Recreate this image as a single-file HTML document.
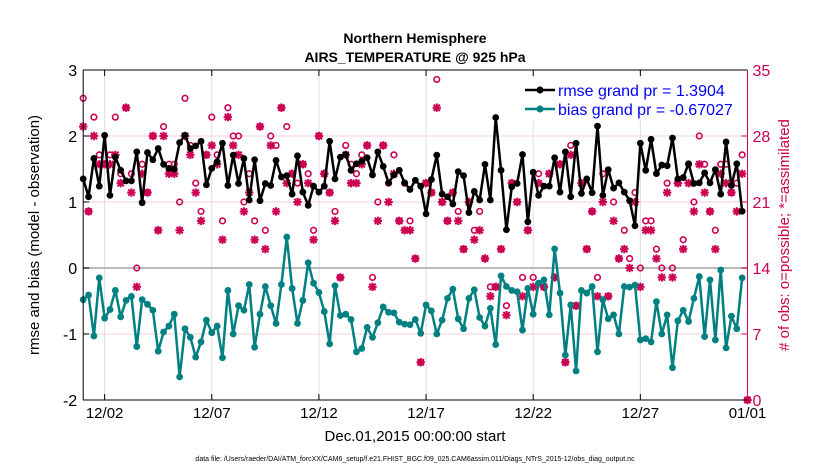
<!DOCTYPE html>
<html><head><meta charset="utf-8">
<style>
html,body{margin:0;padding:0;background:#fff;}
svg{display:block;font-family:"Liberation Sans",Arial,sans-serif;}
</style></head>
<body>
<svg id="chart" width="830" height="470" viewBox="0 0 830 470" xmlns="http://www.w3.org/2000/svg">
<rect x="0" y="0" width="830" height="470" fill="#fff"/>
<text x="415" y="43" text-anchor="middle" font-size="14" font-weight="bold">Northern Hemisphere</text>
<text x="415" y="62" text-anchor="middle" font-size="14" font-weight="bold">AIRS_TEMPERATURE @ 925 hPa</text>
<g id="grid"></g>
<g id="marks"></g>
<g id="axes"></g>
<text transform="translate(39,235) rotate(-90)" text-anchor="middle" font-size="15">rmse and bias (model - observation)</text>
<text transform="translate(789,235) rotate(-90)" text-anchor="middle" font-size="15" fill="#cc0052"># of obs: o=possible; *=assimilated</text>
<text x="415" y="441" text-anchor="middle" font-size="15">Dec.01,2015 00:00:00 start</text>
<text x="415" y="461" text-anchor="middle" font-size="7">data file: /Users/raeder/DAI/ATM_forcXX/CAM6_setup/f.e21.FHIST_BGC.f09_025.CAM6assim.011/Diags_NTrS_2015-12/obs_diag_output.nc</text>
<g id="legend">
  <rect x="520" y="78" width="222" height="42" fill="#fff"/>
  <line x1="525" y1="90" x2="555" y2="90" stroke="#000" stroke-width="2.5"/>
  <circle cx="540" cy="90" r="3.5" fill="#000"/>
  <text x="558" y="96" font-size="16" fill="#0000ff">rmse grand pr = 1.3904</text>
  <line x1="525" y1="109" x2="555" y2="109" stroke="#008080" stroke-width="2.5"/>
  <circle cx="540" cy="109" r="3.5" fill="#008080"/>
  <text x="558" y="115" font-size="16" fill="#0000ff">bias grand pr = -0.67027</text>
</g>
</svg>
<script>
const rmse=[1.35,1.08,1.66,1.24,2.01,1.10,1.68,1.48,1.32,1.32,1.76,0.99,1.75,1.64,1.81,1.57,1.51,1.50,1.90,2.01,1.81,1.85,1.92,1.26,1.51,1.61,1.89,1.25,1.71,1.28,1.66,1.03,1.64,1.02,1.28,1.25,1.63,1.38,1.40,1.12,1.70,1.15,0.95,
1.24,1.15,1.24,1.92,1.35,1.68,1.72,1.48,1.58,1.62,1.67,1.41,1.76,1.54,1.29,1.41,1.48,1.29,1.19,1.33,1.24,0.82,1.34,1.71,1.12,1.08,0.97,1.46,1.40,0.84,1.16,1.03,1.57,1.03,2.28,1.48,0.58,1.23,1.28,1.72,0.70,
1.45,1.10,1.24,1.24,1.67,1.15,1.76,1.08,1.89,1.13,1.35,1.14,2.15,1.10,1.49,1.21,1.29,1.15,1.02,0.64,1.89,1.48,1.95,1.43,1.56,1.55,1.97,1.35,1.37,1.58,1.28,1.29,1.44,1.29,1.49,1.12,1.91,1.25,1.58,0.86];
const bias=[-0.48,-0.41,-1.03,-0.15,-0.76,-0.63,-0.34,-0.74,-0.49,-0.43,-1.19,-0.48,-0.55,-0.64,-1.26,-0.97,-0.88,-0.70,-1.65,-0.92,-1.05,-1.35,-1.12,-0.79,-0.98,-0.88,-1.36,-0.34,-1.00,-0.57,-0.64,-0.25,-1.20,-0.70,-0.28,-0.57,-0.84,-0.25,0.47,-0.31,-0.84,-0.49,0.08,
-0.23,-0.37,-0.66,-1.15,-0.27,-0.72,-0.70,-0.78,-1.27,-1.22,-0.90,-1.05,-0.83,-0.59,-0.67,-0.68,-0.82,-0.85,-0.86,-0.78,-0.99,-0.56,-0.65,-1.00,-0.79,-0.46,-0.32,-0.77,-0.92,-0.46,-0.33,-0.75,-0.88,-0.61,-1.16,-0.12,-0.28,-0.34,-0.36,-0.94,-0.31,
-0.70,-0.23,-0.18,-0.71,0.29,-0.38,-1.32,-0.56,-1.56,-0.34,-0.38,-0.28,-1.27,-0.48,-0.77,-0.71,-1.00,-0.28,-0.29,-0.26,-1.09,-1.07,-1.12,-0.51,-1.00,-0.71,-1.51,-0.80,-0.64,-0.81,-0.46,-0.13,-1.04,-0.18,-1.09,-0.03,-1.21,-0.73,-0.92,-0.15];
const nPossible=[32,20,30,26,25,26,30,24,31,24,14,25,22,28,18,29,25,25,21,32,27,23,20,26,30,26,19,31,28,28,21,24,19,29,18,28,27,31,29,24,23,25,24,
18,28,24,22,20,13,27,25,24,26,27,13,21,27,23,26,19,23,19,15,4,23,22,34,21,19,22,20,16,21,18,20,15,12,12,16,10,23,21,13,18,
13,24,12,24,13,25,4,27,10,23,16,20,13,24,11,21,15,18,15,22,14,19,19,16,14,23,14,23,17,25,21,28,25,20,18,25,25,22,23,26,0];
const nAssim=[29,20,28,25,25,25,26,23,31,22,12,24,22,28,18,28,24,24,18,28,26,22,19,26,27,25,17,30,27,26,20,22,17,29,16,27,20,31,23,24,21,25,23,
17,28,24,22,19,13,26,23,23,25,27,12,19,27,21,24,19,18,18,15,4,23,22,31,21,19,22,19,16,21,17,18,15,11,12,16,9,23,21,11,18,
12,23,12,24,13,25,4,26,10,23,16,20,11,21,11,19,15,16,14,21,12,18,18,15,13,22,13,23,16,23,20,25,22,20,16,24,23,22,20,24,0];
const dateTicks=["12/02","12/07","12/12","12/17","12/22","12/27","01/01"];
const dateTickDays=[1,6,11,16,21,26,31];
const leftTicks=[-2,-1,0,1,2,3];
const rightTicks=[0,7,14,21,28,35];

const X0=83.2,X1=747.5,Y0=70,Y1=400,NS="http://www.w3.org/2000/svg";
const RED="#cc0052",TEAL="#008080";
function xDay(d){return X0+(X1-X0)*d/31;}
function xIdx(i){return xDay(i*0.25);}
function yL(v){return Y1-(v+2)/5*(Y1-Y0);}
function yR(c){return Y1-c/35*(Y1-Y0);}
function mk(tag,attrs,parent){const e=document.createElementNS(NS,tag);for(const k in attrs)e.setAttribute(k,attrs[k]);parent.appendChild(e);return e;}
const grid=document.getElementById('grid'),marks=document.getElementById('marks'),axes=document.getElementById('axes');

dateTickDays.forEach((d,i)=>{const x=xDay(d);
  const g=mk('line',{x1:x,x2:x,y1:Y0,y2:Y1,stroke:'#dddddd','stroke-width':1},grid);
  
  
  mk('line',{x1:x,x2:x,y1:Y1,y2:Y1-6,stroke:'#000','stroke-width':1},axes);
  mk('line',{x1:x,x2:x,y1:Y0,y2:Y0+6,stroke:'#000','stroke-width':1},axes);
  const t=mk('text',{x:x,y:Y1+18,'text-anchor':'middle','font-size':15},axes);t.textContent=dateTicks[i];
  
  
});
rightTicks.forEach(c=>{const y=yR(c);
  if(c>0&&c<35){const g=mk('line',{x1:X0,x2:X1,y1:y,y2:y,stroke:c===14?'#bbbbbb':'#f0d0dc','stroke-width':c===14?2:1},grid);
    
    }
  mk('line',{x1:X1,x2:X1-6,y1:y,y2:y,stroke:RED,'stroke-width':1},axes);
  const t=mk('text',{x:X1+5,y:y+6,'font-size':16,fill:RED},axes);t.textContent=c;
  
  
});
leftTicks.forEach(v=>{const y=yL(v);
  mk('line',{x1:X0,x2:X0+6,y1:y,y2:y,stroke:'#000','stroke-width':1},axes);
  const t=mk('text',{x:X0-6,y:y+6,'text-anchor':'end','font-size':16},axes);t.textContent=v;
  
  
});
mk('line',{x1:X0,x2:X1,y1:Y0,y2:Y0,stroke:'#000','stroke-width':1},axes);
mk('line',{x1:X0,x2:X1,y1:Y1,y2:Y1,stroke:'#000','stroke-width':1},axes);
mk('line',{x1:X0,x2:X0,y1:Y0,y2:Y1,stroke:'#000','stroke-width':1},axes);
mk('line',{x1:X1,x2:X1,y1:Y0,y2:Y1,stroke:RED,'stroke-width':1},axes);

function star(x,y){const g=mk('g',{stroke:RED,'stroke-width':2},marks);
  
  
  const r=4.2;
  mk('line',{x1:x-r,x2:x+r,y1:y,y2:y},g);mk('line',{x1:x,x2:x,y1:y-r,y2:y+r},g);
  mk('line',{x1:x-r*0.75,x2:x+r*0.75,y1:y-r*0.75,y2:y+r*0.75},g);mk('line',{x1:x-r*0.75,x2:x+r*0.75,y1:y+r*0.75,y2:y-r*0.75},g);
}
nPossible.forEach((c,i)=>{const x=xIdx(i);
  const o=mk('circle',{cx:x,cy:yR(c),r:2.8,fill:'none',stroke:RED,'stroke-width':1.6},marks);
  
  
});
nAssim.forEach((c,i)=>{star(xIdx(i),yR(c));});

function series(vals,color,name){
  const p=mk('polyline',{points:vals.map((v,i)=>xIdx(i)+','+yL(v)).join(' '),fill:'none',stroke:color,'stroke-width':2.5,'stroke-linejoin':'round'},marks);
  
  
  vals.forEach((v,i)=>{const c=mk('circle',{cx:xIdx(i),cy:yL(v),r:3.4,fill:color},marks);
    
    });
}
series(rmse,'#000','rmse');
series(bias,TEAL,'bias');
</script>
</body></html>
